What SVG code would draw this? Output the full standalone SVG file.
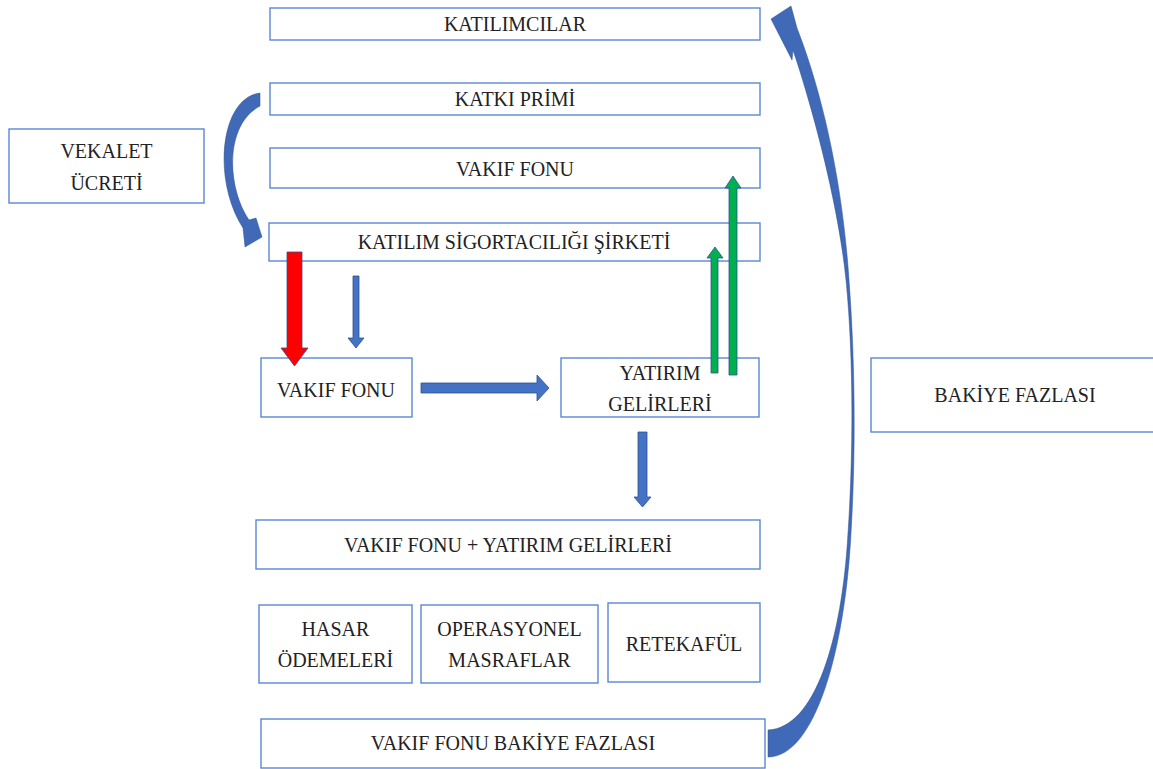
<svg xmlns="http://www.w3.org/2000/svg" width="1153" height="769" viewBox="0 0 1153 769">
<style>
.box{fill:#fff;stroke:#5B87D6;stroke-width:1.4}
.t{font-family:'Liberation Serif','Times New Roman',Tinos,'DejaVu Serif',serif;font-size:20px;fill:#222;text-anchor:middle}
.blue{fill:#4472C4;stroke:#2F528F;stroke-width:0.8}
.red{fill:#FF0000;stroke:#2F528F;stroke-width:0.8}
.green{fill:#00B050;stroke:#2F528F;stroke-width:0.8}
.curve{fill:#4069B8;stroke:#2F528F;stroke-width:0.5}
</style>
<rect width="1153" height="769" fill="#fff"/>
<g id="katilimcilar"><rect class="box" x="270" y="8" width="490" height="32"/><text class="t" x="515" y="31">KATILIMCILAR</text></g>
<g id="katki-primi"><rect class="box" x="270" y="83" width="490" height="32"/><text class="t" x="515" y="106">KATKI PRİMİ</text></g>
<g id="vakif-fonu-top"><rect class="box" x="270" y="148" width="490" height="40"/><text class="t" x="515" y="176">VAKIF FONU</text></g>
<g id="sirket"><rect class="box" x="269" y="223" width="491" height="38"/><text class="t" x="514" y="249">KATILIM SİGORTACILIĞI ŞİRKETİ</text></g>
<g id="vekalet"><rect class="box" x="9" y="129" width="195" height="74"/><text class="t" x="106.5" y="158">VEKALET</text><text class="t" x="106.5" y="190">ÜCRETİ</text></g>
<g id="vakif-fonu-mid"><rect class="box" x="261" y="358" width="151" height="59"/><text class="t" x="336" y="397">VAKIF FONU</text></g>
<g id="yatirim"><rect class="box" x="561" y="358" width="198" height="59"/><text class="t" x="660" y="380">YATIRIM</text><text class="t" x="660" y="411">GELİRLERİ</text></g>
<g id="bakiye"><rect class="box" x="871" y="358" width="290" height="74"/><text class="t" x="1015" y="402">BAKİYE FAZLASI</text></g>
<g id="vf-yg"><rect class="box" x="256" y="520" width="504" height="49"/><text class="t" x="508" y="552">VAKIF FONU + YATIRIM GELİRLERİ</text></g>
<g id="hasar"><rect class="box" x="259" y="605" width="153" height="78"/><text class="t" x="335.5" y="636">HASAR</text><text class="t" x="335.5" y="667">ÖDEMELERİ</text></g>
<g id="operasyonel"><rect class="box" x="421" y="605" width="177" height="78"/><text class="t" x="509.5" y="636">OPERASYONEL</text><text class="t" x="509.5" y="667">MASRAFLAR</text></g>
<g id="retekaful"><rect class="box" x="608" y="603" width="152" height="79"/><text class="t" x="684" y="651">RETEKAFÜL</text></g>
<g id="vf-bakiye"><rect class="box" x="261" y="719" width="504" height="49"/><text class="t" x="513" y="750">VAKIF FONU BAKİYE FAZLASI</text></g>
<g id="connectors">
<path class="curve" d="M260,93 C220,98 212,180 243,228 L245,247 L262,237 L256,218 L249,220 C227,188 224,125 260,106 Z"/>
<path class="curve" d="M771,19 L792,60 L793,50 C810,100 838,200 846,280 C854,360 853,460 848,533 C842,640 815,728 768,730 L768,757 C815,757 845,650 851,533 C856,450 855,360 849,280 C843,190 825,100 797,28 L791,6 Z"/>
<path class="red" d="M287,252 H302 V348 H308 L294.5,366 L281,348 H287 Z"/>
<path class="blue" d="M353,276 H359 V338 H364 L356,348 L348,338 H353 Z"/>
<path class="blue" d="M421,383 H537 V375 L549,388 L537,401 V393 H421 Z"/>
<path class="green" d="M711,373 V258 H707 L715,247 L723,258 H718 V373 Z"/>
<path class="green" d="M729,375 V188 H725 L733,176 L741,188 H737 V375 Z"/>
<path class="blue" d="M638,432 H647 V497 H651 L642.5,507 L634,497 H638 Z"/>
</g>
</svg>
